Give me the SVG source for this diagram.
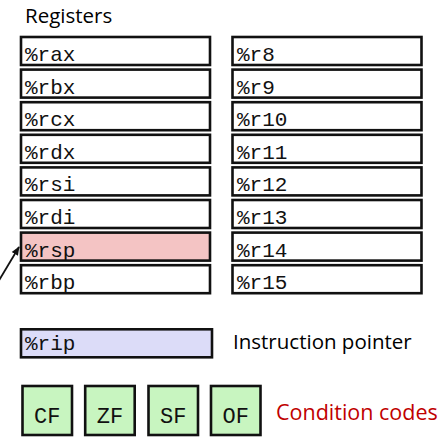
<svg xmlns="http://www.w3.org/2000/svg" width="445" height="448" viewBox="0 0 445 448">
<defs>
<style>
.reg{fill:#fff;stroke:#111;stroke-width:2.6}
.sp{fill:#f4c4c4}
.ip{fill:#dcdcf8}
.fl{fill:#c8f5c0;stroke:#111;stroke-width:2.6}
.mono{font-family:"Liberation Mono","Courier New",monospace;font-size:21px;fill:#111}
.flag{font-family:"Liberation Mono","Courier New",monospace;font-size:22px;fill:#111;text-anchor:middle}
.lbl{font-family:"Open Sans","Liberation Sans",sans-serif;font-size:20.5px;fill:#000}
.cc{fill:#c00000;font-size:21.5px}
</style>
<marker id="ah" viewBox="0 0 10 10" refX="9" refY="5" markerWidth="9" markerHeight="9" orient="auto" markerUnits="userSpaceOnUse">
<path d="M0,1 L10,5 L0,9 z" fill="#111"/>
</marker>
</defs>
<rect width="445" height="448" fill="#fff"/>
<text id="title" class="lbl" x="25" y="23">Registers</text>

<g id="rax"><rect class="reg" x="21" y="37" width="189" height="28"/><text class="mono" x="25" y="61">%rax</text></g>
<g id="rbx"><rect class="reg" x="21" y="69.6" width="189" height="28"/><text class="mono" x="25" y="93.6">%rbx</text></g>
<g id="rcx"><rect class="reg" x="21" y="102.2" width="189" height="28"/><text class="mono" x="25" y="126.2">%rcx</text></g>
<g id="rdx"><rect class="reg" x="21" y="134.8" width="189" height="28"/><text class="mono" x="25" y="158.8">%rdx</text></g>
<g id="rsi"><rect class="reg" x="21" y="167.4" width="189" height="28"/><text class="mono" x="25" y="191.4">%rsi</text></g>
<g id="rdi"><rect class="reg" x="21" y="200" width="189" height="28"/><text class="mono" x="25" y="224">%rdi</text></g>
<g id="rsp"><rect class="reg sp" x="21" y="232.6" width="189" height="28"/><text class="mono" x="25" y="256.6">%rsp</text></g>
<g id="rbp"><rect class="reg" x="21" y="265.2" width="189" height="28"/><text class="mono" x="25" y="289.2">%rbp</text></g>

<g id="r8"><rect class="reg" x="232.5" y="37" width="189" height="28"/><text class="mono" x="237" y="61">%r8</text></g>
<g id="r9"><rect class="reg" x="232.5" y="69.6" width="189" height="28"/><text class="mono" x="237" y="93.6">%r9</text></g>
<g id="r10"><rect class="reg" x="232.5" y="102.2" width="189" height="28"/><text class="mono" x="237" y="126.2">%r10</text></g>
<g id="r11"><rect class="reg" x="232.5" y="134.8" width="189" height="28"/><text class="mono" x="237" y="158.8">%r11</text></g>
<g id="r12"><rect class="reg" x="232.5" y="167.4" width="189" height="28"/><text class="mono" x="237" y="191.4">%r12</text></g>
<g id="r13"><rect class="reg" x="232.5" y="200" width="189" height="28"/><text class="mono" x="237" y="224">%r13</text></g>
<g id="r14"><rect class="reg" x="232.5" y="232.6" width="189" height="28"/><text class="mono" x="237" y="256.6">%r14</text></g>
<g id="r15"><rect class="reg" x="232.5" y="265.2" width="189" height="28"/><text class="mono" x="237" y="289.2">%r15</text></g>

<g id="rip"><rect class="reg ip" x="21" y="329.3" width="191" height="28"/><text class="mono" x="25" y="350">%rip</text></g>
<text id="iplabel" class="lbl" x="233" y="349">Instruction pointer</text>

<g id="cf"><rect class="fl" x="22.5" y="386" width="49.5" height="49"/><text class="flag" x="47.3" y="423">CF</text></g>
<g id="zf"><rect class="fl" x="85.2" y="386" width="49.5" height="49"/><text class="flag" x="110" y="423">ZF</text></g>
<g id="sf"><rect class="fl" x="148.5" y="386" width="49.5" height="49"/><text class="flag" x="173.3" y="423">SF</text></g>
<g id="of"><rect class="fl" x="211" y="386" width="49.5" height="49"/><text class="flag" x="235.8" y="423">OF</text></g>
<text id="cclabel" class="lbl cc" x="276" y="420">Condition codes</text>

<g id="connectors">
<line x1="-2" y1="282" x2="19" y2="247" stroke="#111" stroke-width="1.8" marker-end="url(#ah)"/>
</g>
</svg>
